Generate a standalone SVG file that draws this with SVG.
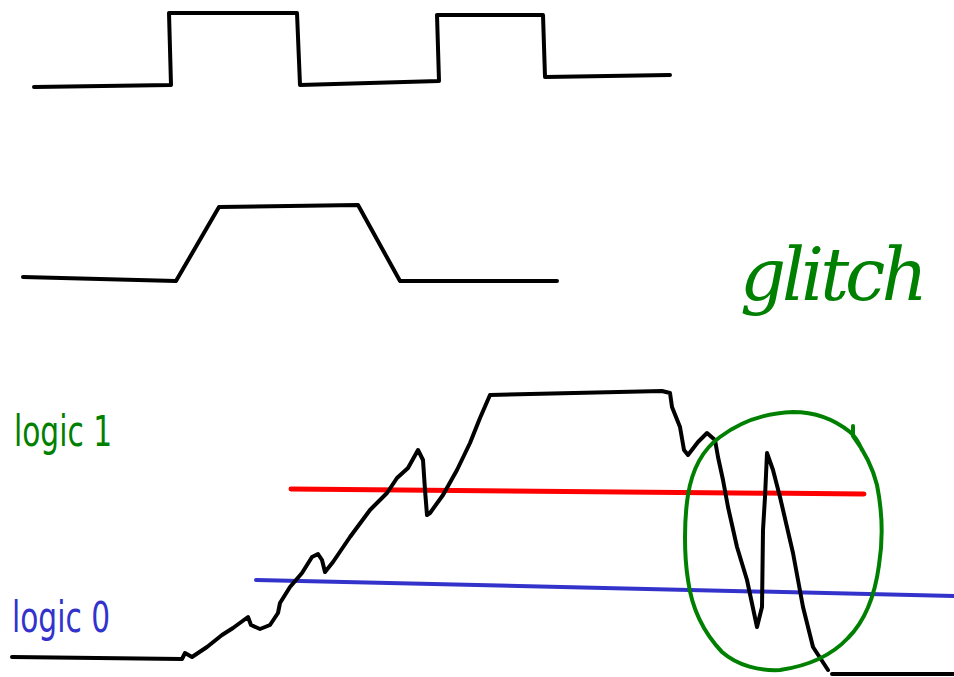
<svg xmlns="http://www.w3.org/2000/svg" width="954" height="677" viewBox="0 0 954 677">
<style>
.k{fill:none;stroke:#000;stroke-width:4;stroke-linecap:round;stroke-linejoin:round}
.lbl{font-family:"DejaVu Sans Condensed","DejaVu Sans",sans-serif;font-size:42px}
</style>
<rect width="954" height="677" fill="#fff"/>
<path class="k" d="M34,87 L171,85 L169,13 L297,13 L300,85 L439,81 L437,15 L543,15 L545,77 L670,75"/>
<path class="k" d="M23,277 L176,281 L219,207 L358,205 L400,281 L557,281"/>
<path fill="none" stroke="#ff0000" stroke-width="5" stroke-linecap="round" d="M291,489 L864,494"/>
<path fill="none" stroke="#3333cc" stroke-width="4" stroke-linecap="round" d="M256,580 L954,596"/>
<path class="k" d="M12,657 L182,659 L185,653 L192,657 L207,647 L222,635 L233,628 L248,617 L251,625 L260,629 L270,625 L278,613 L280,603 L290,587 L302,573 L312,557 L318,554 L322,560 L325,572 L333,562 L350,537 L370,510 L387,493 L397,478 L408,468 L418,450 L423,460 L425,490 L427,515 L430,513 L443,495 L457,470 L470,443 L480,418 L490,395 L662,391 L670,393 L672,407 L680,427 L684,450 L688,455 L698,442 L707,433 L715,440 L718,457 L723,480 L728,507 L737,547 L747,580 L757,627 L762,607 L763,530 L765,497 L767,453 L773,470 L780,497 L793,553 L803,607 L813,647 L828,670"/>
<path class="k" d="M832,674 L954,674"/>
<path fill="none" stroke="#008000" stroke-width="4" stroke-linecap="round" stroke-linejoin="round" d="M853,426 L853,436 C862,448 872,465 877,485 C882,510 883,540 879,565 C875,595 866,620 848,638 C832,655 808,666 780,670 C760,671 738,666 722,652 C704,633 692,610 688,580 C684,555 684,520 688,495 C692,470 702,450 720,437 C740,422 765,413 793,412 C815,412 835,420 850,432 C856,437 860,445 862,450"/>
<text class="lbl" x="14" y="446" fill="#008000" textLength="98" lengthAdjust="spacingAndGlyphs">logic 1</text>
<text class="lbl" x="12" y="632" fill="#3333cc" textLength="98" lengthAdjust="spacingAndGlyphs">logic 0</text>
<text x="740" y="300" fill="#008000" font-family="DejaVu Serif" font-style="italic" font-size="72" letter-spacing="-4">glitch</text>
</svg>
